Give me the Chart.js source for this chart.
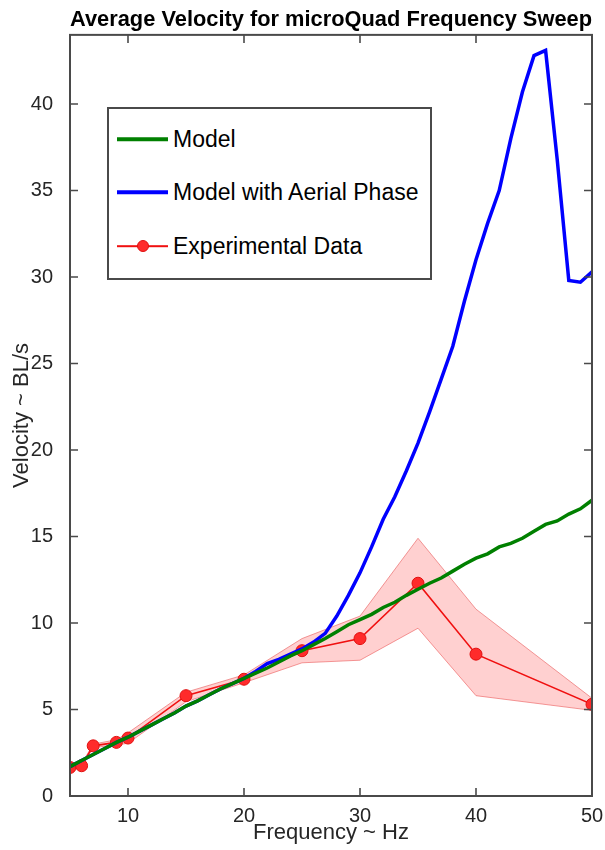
<!DOCTYPE html>
<html>
<head>
<meta charset="utf-8">
<title>Average Velocity for microQuad Frequency Sweep</title>
<script src="https://cdn.jsdelivr.net/npm/chart.js@4.4.1/dist/chart.umd.min.js"></script>
<style>
  body { margin: 0; background: #fff; }
  #wrap { position: relative; width: 605px; height: 850px; }
  #legend {
    position: absolute; left: 107px; top: 107px; width: 321px; height: 169px;
    border: 2px solid #4a4a4a; background: #fff;
    font-family: "Liberation Sans", Arial, sans-serif; font-size: 23px; color: #000;
  }
  .row { position: absolute; left: 8px; height: 30px; display: flex; align-items: center; white-space: nowrap; }
  .sw { position: relative; width: 51px; height: 30px; margin-right: 5px; }
  .sw .ln { position: absolute; left: 0; right: 0; top: 50%; transform: translateY(-50%); }
  .sw .dot { position: absolute; left: 50%; top: 50%; width: 12px; height: 12px; margin: -6px 0 0 -6px; border-radius: 50%; box-sizing: border-box; }
</style>
</head>
<body>
<div id="wrap">
  <canvas id="myChart" width="605" height="850"></canvas>
  <div id="legend"></div>
</div>
<script>
// model curves, sampled every 1 Hz
const freqModel = [5,6,7,8,9,10,11,12,13,14,15,16,17,18,19,20,21,22,23,24,25,26,27,28,29,30,
                   31,32,33,34,35,36,37,38,39,40,41,42,43,44,45,46,47,48,49,50];
const velModel = [1.7,2.05,2.4,2.75,3.1,3.4,3.75,4.1,4.45,4.8,5.2,5.5,5.85,6.2,6.5,6.8,7.1,7.4,7.75,8.1,
                  8.4,8.75,9.1,9.5,9.9,10.2,10.5,10.9,11.2,11.6,11.95,12.3,12.6,13.0,13.4,13.75,14.0,14.4,14.6,14.9,
                  15.3,15.7,15.9,16.3,16.6,17.1];
const velAerial = [1.7,2.05,2.4,2.75,3.1,3.4,3.75,4.1,4.45,4.8,5.2,5.5,5.85,6.2,6.5,6.8,7.2,7.65,7.9,8.2,
                   8.5,8.9,9.4,10.4,11.6,12.9,14.4,16.0,17.3,18.8,20.4,22.2,24.1,26.0,28.6,31.0,33.1,35.0,38.0,40.7,
                   42.8,43.1,36.8,29.8,29.7,30.3];

// experimental runs
const freqExp = [5,6,7,9,10,15,20,25,30,35,40,50];
const velExp = [1.65,1.75,2.9,3.1,3.35,5.8,6.75,8.4,9.1,12.3,8.2,5.3];
const velExpHi = [1.75,1.85,3.0,3.25,3.65,6.0,7.0,9.1,10.4,14.9,10.8,5.65];
const velExpLo = [1.55,1.65,2.8,2.95,3.05,5.45,6.55,7.7,7.85,9.7,5.8,4.95];

const xTicks = [10,20,30,40,50];
const yTicks = [0,5,10,15,20,25,30,35,40];

const FONT = '"Liberation Sans", Arial, Helvetica, sans-serif';
Chart.defaults.font.family = FONT;

const pts = (xs, ys) => xs.map((v, i) => ({x: v, y: ys[i]}));

// box round the axes with inward ticks, like matlab
const frame = {
  id: 'frame',
  afterDraw(chart) {
    const {ctx, chartArea: a, scales: {x, y}} = chart;
    ctx.save();
    ctx.strokeStyle = '#4a4a4a';
    ctx.lineWidth = 2;
    ctx.strokeRect(a.left, a.top, a.right - a.left, a.bottom - a.top);
    ctx.lineWidth = 1.6;
    ctx.beginPath();
    x.ticks.forEach(t => {
      const px = x.getPixelForValue(t.value);
      ctx.moveTo(px, a.bottom); ctx.lineTo(px, a.bottom - 8);
      ctx.moveTo(px, a.top); ctx.lineTo(px, a.top + 8);
    });
    y.ticks.forEach(t => {
      const py = y.getPixelForValue(t.value);
      ctx.moveTo(a.left, py); ctx.lineTo(a.left + 8, py);
      ctx.moveTo(a.right, py); ctx.lineTo(a.right - 8, py);
    });
    ctx.stroke();
    ctx.restore();
  }
};

const ctx = document.getElementById('myChart');
const chart = new Chart(ctx, {
  type: 'line',
  data: {
    datasets: [
      { label: 'Model', data: pts(freqModel, velModel), borderColor: '#008000', borderWidth: 3.5,
        pointRadius: 0, tension: 0, fill: false, inLegend: true },
      { label: 'Model with Aerial Phase', data: pts(freqModel, velAerial), borderColor: '#0000ff', borderWidth: 3.5,
        pointRadius: 0, tension: 0, fill: false, inLegend: true },
      { label: 'Experimental Data', data: pts(freqExp, velExp), borderColor: '#f01010', borderWidth: 1.6,
        pointRadius: 6, pointBackgroundColor: '#ff2b2b', pointBorderColor: '#e01010', pointBorderWidth: 1,
        tension: 0, fill: false, inLegend: true },
      { label: 'upper', data: pts(freqExp, velExpHi), borderColor: 'rgba(235,110,110,0.7)', borderWidth: 1,
        backgroundColor: 'rgba(255,110,110,0.32)', pointRadius: 0, tension: 0, fill: '+1' },
      { label: 'lower', data: pts(freqExp, velExpLo), borderColor: 'rgba(235,110,110,0.7)', borderWidth: 1,
        pointRadius: 0, tension: 0, fill: false }
    ]
  },
  options: {
    responsive: false,
    animation: false,
    layout: { padding: { right: 13 } },
    plugins: {
      legend: { display: false },
      tooltip: { enabled: false },
      title: {
        display: true, fullSize: false,
        text: 'Average Velocity for microQuad Frequency Sweep',
        color: '#000', font: { size: 22.4, weight: 'bold' },
        padding: { top: 6, bottom: 2 }
      }
    },
    scales: {
      x: {
        type: 'linear', min: 5, max: 50,
        grid: { display: false }, border: { display: false },
        afterBuildTicks: s => { s.ticks = xTicks.map(v => ({value: v})); },
        afterFit: s => { s.height = 54; },
        ticks: { font: { size: 20 }, color: '#262626', padding: 0, maxRotation: 0 },
        title: { display: true, text: 'Frequency ~ Hz', color: '#262626', font: { size: 22 },
                 padding: { top: 0, bottom: 4 } }
      },
      y: {
        min: 0, max: 44,
        grid: { display: false }, border: { display: false },
        afterBuildTicks: s => { s.ticks = yTicks.map(v => ({value: v})); },
        afterFit: s => { s.width = 70; },
        ticks: { font: { size: 20 }, color: '#262626', padding: 9 },
        title: { display: true, text: 'Velocity ~ BL/s', color: '#262626', font: { size: 22 },
                 padding: { top: 9, bottom: 0 } }
      }
    }
  },
  plugins: [frame]
});

// legend sits inside the axes, so build it by hand from the datasets
const rowTops = [15, 68, 122];
const legend = document.getElementById('legend');
chart.data.datasets.filter(d => d.inLegend).forEach((d, i) => {
  const row = document.createElement('div');
  row.className = 'row';
  row.style.top = rowTops[i] + 'px';
  const sw = document.createElement('div');
  sw.className = 'sw';
  const ln = document.createElement('div');
  ln.className = 'ln';
  ln.style.height = d.borderWidth + 'px';
  ln.style.background = d.borderColor;
  sw.appendChild(ln);
  if (d.pointRadius) {
    const dot = document.createElement('div');
    dot.className = 'dot';
    dot.style.background = d.pointBackgroundColor;
    dot.style.border = '1px solid ' + d.pointBorderColor;
    sw.appendChild(dot);
  }
  const txt = document.createElement('span');
  txt.textContent = d.label;
  row.appendChild(sw);
  row.appendChild(txt);
  legend.appendChild(row);
});
</script>
</body>
</html>
